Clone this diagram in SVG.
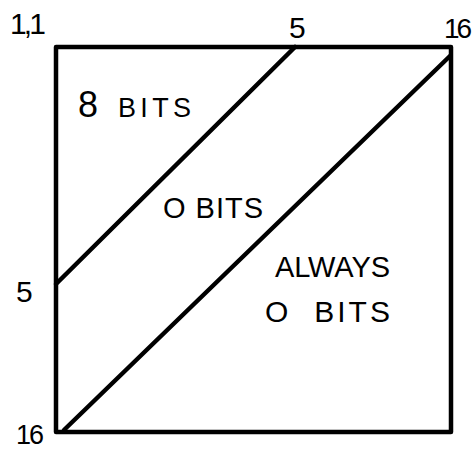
<svg xmlns="http://www.w3.org/2000/svg" width="473" height="449" viewBox="0 0 473 449">
<style>
.ln{stroke:#000;stroke-width:4.5;fill:none;stroke-linecap:round;stroke-linejoin:round}
.t{font-family:"Liberation Sans",Arial,sans-serif;fill:#000}
</style>
<rect width="473" height="449" fill="#fff"/>
<g id="square"><rect class="ln" x="56" y="47" width="395" height="385"/></g>
<g id="connectors">
<line class="ln" x1="295" y1="47" x2="56" y2="284"/>
<line class="ln" x1="450" y1="56" x2="64" y2="430"/>
</g>
<g id="labels">
<text class="t" x="10" y="34" font-size="30" textLength="36">1,1</text>
<text class="t" x="289" y="38" font-size="30">5</text>
<text class="t" x="444" y="38" font-size="28" textLength="28">16</text>
<text class="t" x="16" y="302" font-size="30">5</text>
<text class="t" x="16" y="444" font-size="27" textLength="28">16</text>
<text class="t" x="78" y="117" font-size="36">8</text>
<text class="t" x="118" y="117" font-size="27" textLength="73">BITS</text>
<text class="t" x="163" y="218" font-size="29" textLength="100">O BITS</text>
<text class="t" x="275" y="277" font-size="29" textLength="115">ALWAYS</text>
<text class="t" x="265" y="322" font-size="30" textLength="125">O&#160; BITS</text>
</g>
</svg>
